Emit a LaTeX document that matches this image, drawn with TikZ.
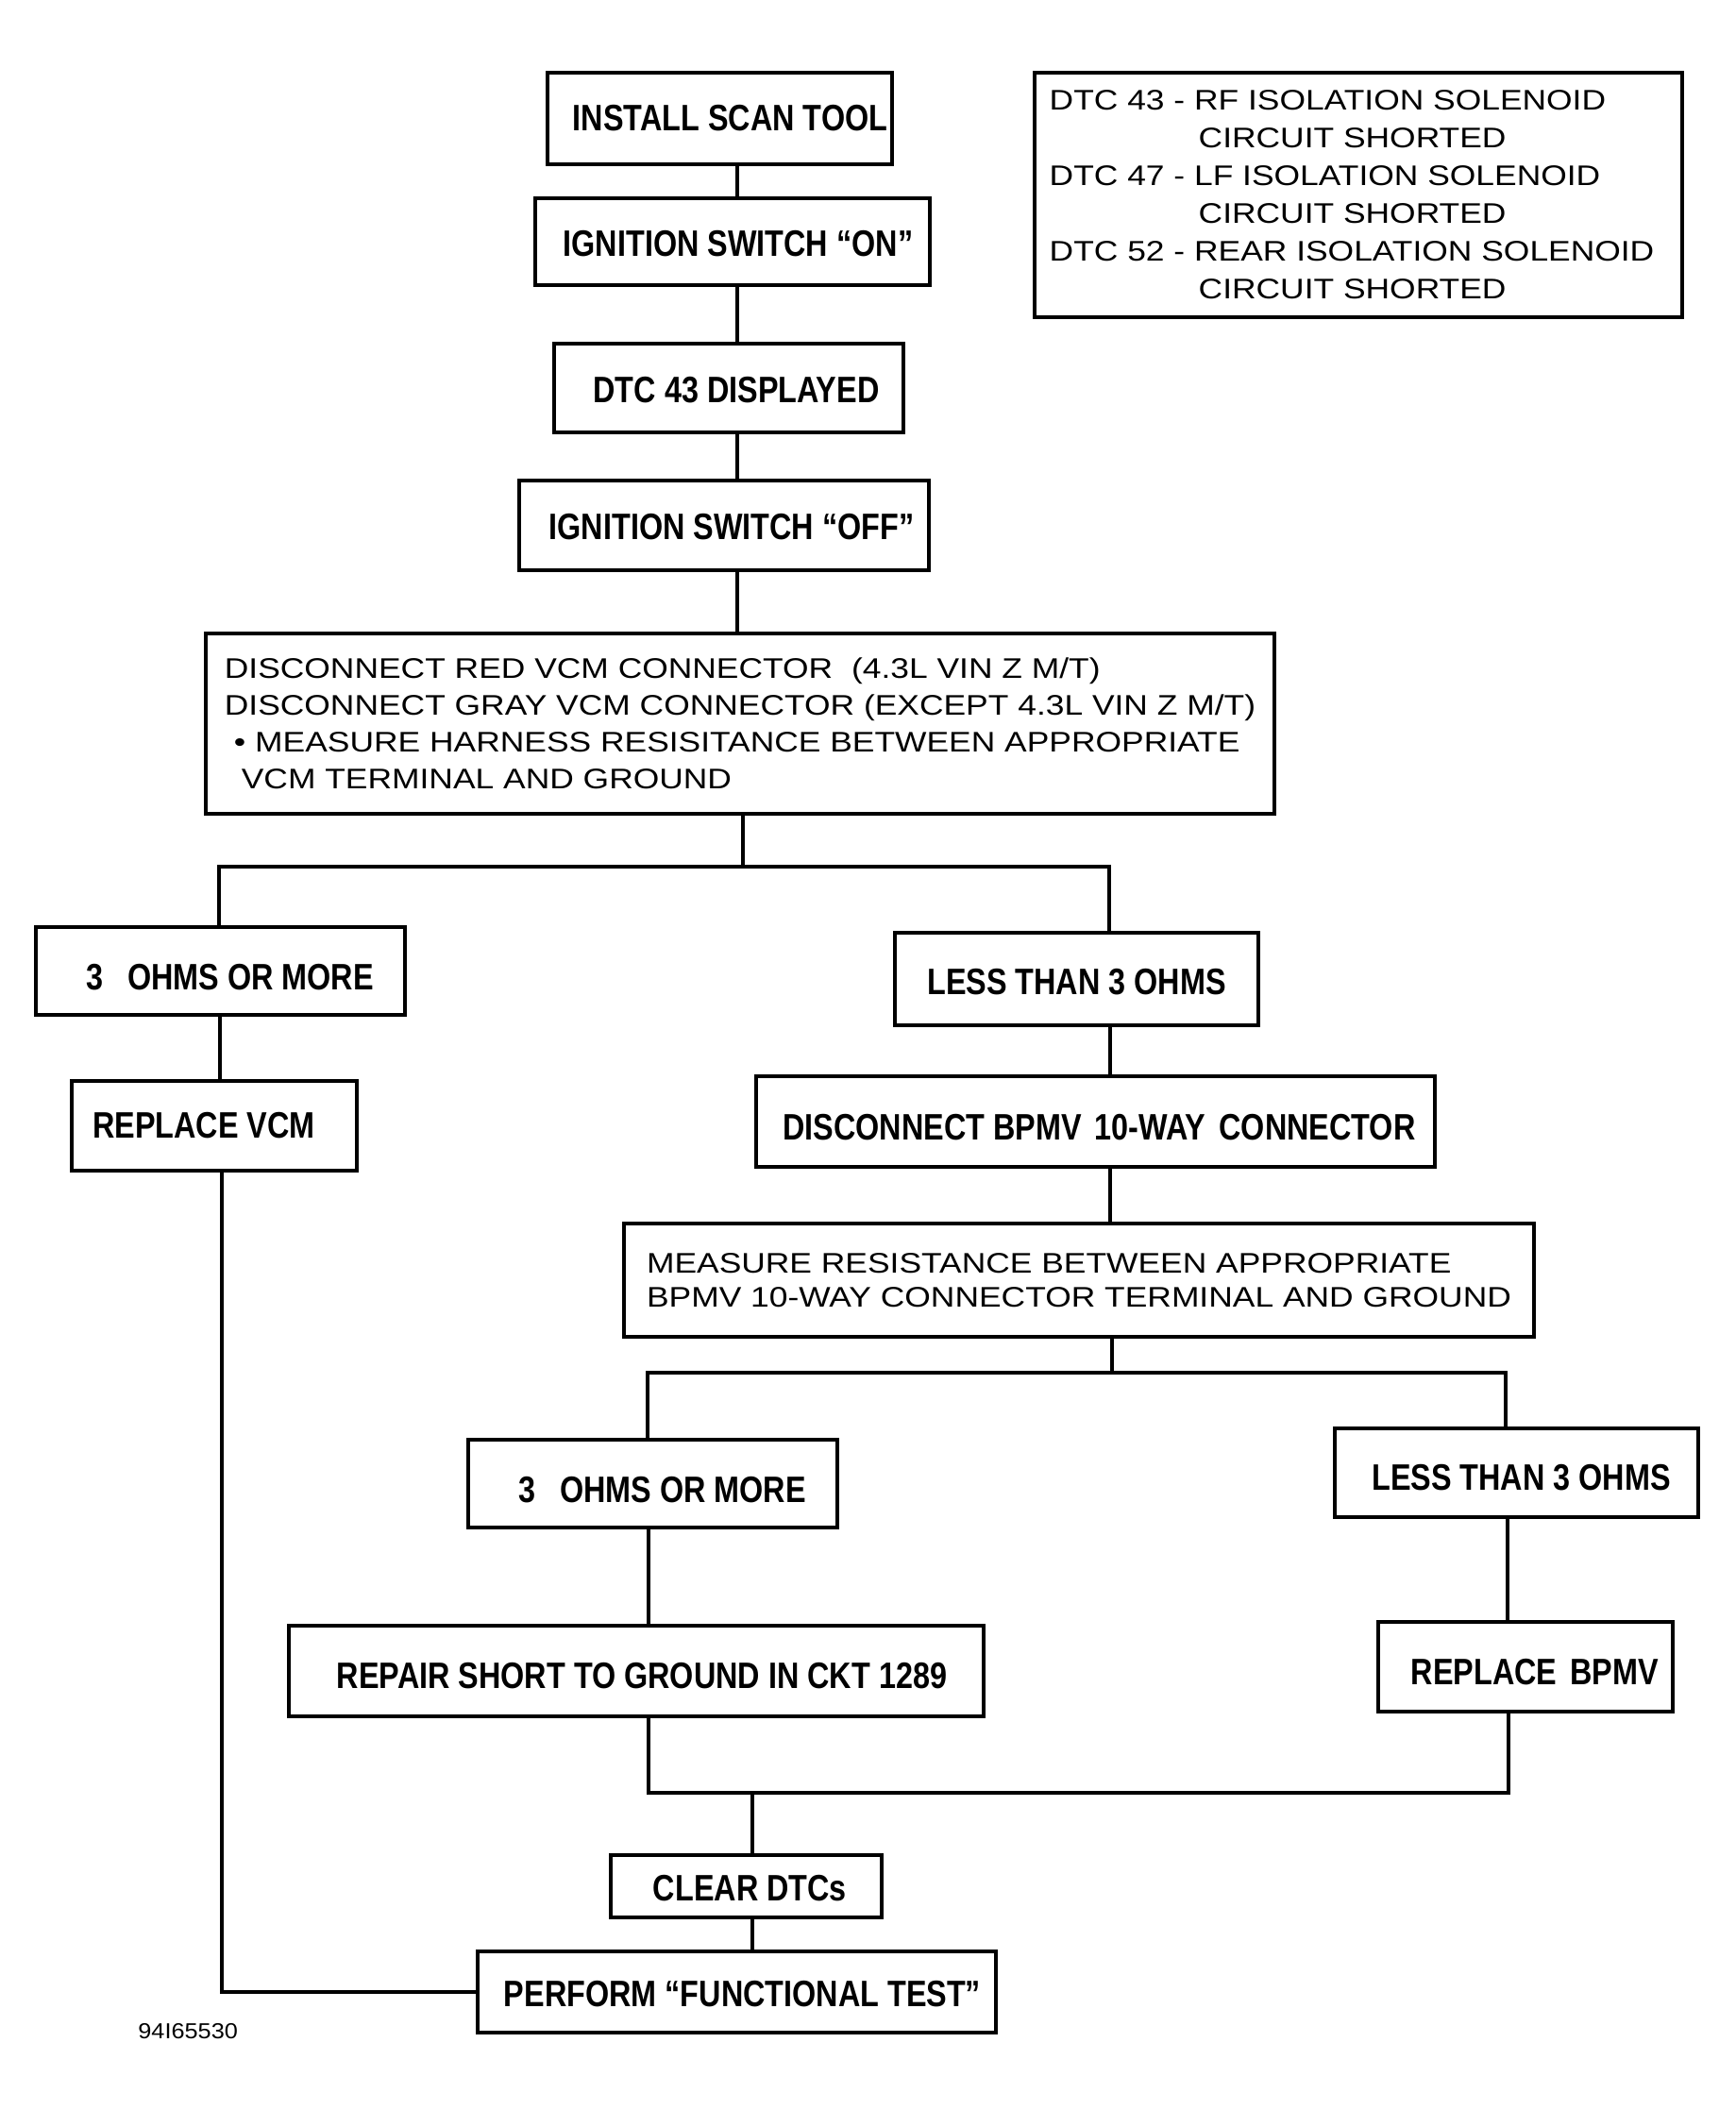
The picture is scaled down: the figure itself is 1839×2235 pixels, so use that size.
\documentclass[tikz,border=0pt]{standalone}
\usepackage{fontspec}
\setmainfont{Liberation Sans}
\newfontfamily\regfont[FakeStretch=1.18]{Liberation Sans}
\newfontfamily\bnarrow[FakeStretch=0.83]{Liberation Sans}
\newfontfamily\smallfont[FakeStretch=1.1]{Liberation Sans}
\newcommand{\dn}[2]{\raisebox{-#1}[\height][\depth]{#2}}
\begin{document}
\begin{tikzpicture}[x=0.5pt,y=-0.5pt,
  bx/.style={draw, line width=2pt, inner sep=0pt, font=\bnarrow\bfseries\fontsize{19.5pt}{23pt}\selectfont},
  tx/.style={draw, line width=2pt, inner sep=0pt, align=left, font=\regfont\fontsize{15pt}{19.5pt}\selectfont},
  ln/.style={line width=2.2pt}]
\fill[white] (0,0) rectangle (1839,2235);
\useasboundingbox (0,0) rectangle (1839,2235);

% top chain
\node[bx, minimum width=182.5pt, minimum height=48.5pt] (install) at (762.5,125.5) {\hspace*{11pt}INSTALL SCAN TOOL};
\node[bx, minimum width=209pt, minimum height=46pt] (ignon) at (776,256) {\dn{1pt}{\hspace*{6pt}IGNITION SWITCH “ON”}};
\node[bx, minimum width=185pt, minimum height=47pt] (dtc) at (772,411) {\dn{1pt}{\hspace*{8pt}DTC 43 DISPLAYED}};
\node[bx, minimum width=217pt, minimum height=47.5pt] (ignoff) at (767,556.5) {\dn{1pt}{\hspace*{8pt}IGNITION SWITCH “OFF”}};

% legend
\node[tx, line width=2.4pt, font=\regfont\fontsize{15pt}{20pt}\selectfont, minimum width=343pt, minimum height=129.5pt] (legend) at (1439,206.5)
  {DTC 43 - RF ISOLATION SOLENOID\\\hspace*{79pt}CIRCUIT SHORTED\\DTC 47 - LF ISOLATION SOLENOID\\\hspace*{79pt}CIRCUIT SHORTED\\DTC 52 - REAR ISOLATION SOLENOID\rule{7pt}{0pt}\\\hspace*{79pt}CIRCUIT SHORTED};

% big box
\node[tx, minimum width=566pt, minimum height=95.5pt] (big) at (784,766.5)
  {DISCONNECT RED VCM CONNECTOR\hspace{5pt} (4.3L VIN Z M/T)\\DISCONNECT GRAY VCM CONNECTOR (EXCEPT 4.3L VIN Z M/T)\\\hspace*{5pt}•\hspace{5pt}MEASURE HARNESS RESISITANCE BETWEEN APPROPRIATE\\\hspace*{9pt}VCM TERMINAL AND GROUND};

% left branch
\node[bx, minimum width=195.5pt, minimum height=46.5pt] (ohms1) at (233.5,1028.5) {\dn{3.5pt}{\hspace*{10pt}3\hspace{13pt}OHMS OR MORE}};
\node[bx, minimum width=151pt, minimum height=47.5pt] (repvcm) at (227,1192.5) {REPLACE VCM\hspace*{11pt}};

% right branch
\node[bx, minimum width=192.5pt, minimum height=49pt] (less1) at (1140.5,1037) {\dn{1.5pt}{LESS THAN 3 OHMS}};
\node[bx, minimum width=359.5pt, minimum height=48pt] (disc) at (1160.5,1188) {\dn{3pt}{\hspace*{4pt}DISCONNECT BPMV\hspace{7pt}10-WAY\hspace{7pt}CONNECTOR}};
\node[tx, font=\regfont\fontsize{15pt}{18pt}\selectfont, minimum width=482pt, minimum height=60pt] (meas) at (1143,1356)
  {MEASURE RESISTANCE BETWEEN APPROPRIATE\\BPMV 10-WAY CONNECTOR TERMINAL AND GROUND};

\node[bx, minimum width=195.5pt, minimum height=46.5pt] (ohms2) at (691.5,1571.5) {\dn{3.5pt}{\hspace*{10pt}3\hspace{13pt}OHMS OR MORE}};
\node[bx, minimum width=192.5pt, minimum height=47pt] (less2) at (1606.5,1560) {\dn{2.5pt}{\hspace*{5pt}LESS THAN 3 OHMS}};
\node[bx, minimum width=368pt, minimum height=48pt] (repair) at (674,1770) {\dn{2.5pt}{\hspace*{6pt}REPAIR SHORT TO GROUND IN CKT 1289}};
\node[bx, minimum width=156pt, minimum height=47.5pt] (repb) at (1616,1765.5) {\dn{3pt}{\hspace*{10pt}REPLACE\hspace{7pt}BPMV}};

% bottom
\node[bx, minimum width=143.5pt, minimum height=33pt] (clear) at (790.5,1998) {\dn{1pt}{\hspace*{4pt}CLEAR DTCs}};
\node[bx, minimum width=274.5pt, minimum height=43pt] (perform) at (780.5,2110) {\dn{1pt}{\hspace*{6pt}PERFORM “FUNCTIONAL TEST”}};

\node[anchor=west, inner sep=0pt, font=\smallfont\fontsize{11.5pt}{13pt}\selectfont] (code) at (146,2152) {94I65530};

% connectors: top trunk
\coordinate (ta) at (781,0);
\draw[ln] (install.south -| ta) -- (ignon.north -| ta);
\draw[ln] (ignon.south -| ta) -- (dtc.north -| ta);
\draw[ln] (dtc.south -| ta) -- (ignoff.north -| ta);
\draw[ln] (ignoff.south -| ta) -- (big.north -| ta);

% first split
\coordinate (s1) at (787,918);
\coordinate (s1l) at (232,918);
\coordinate (s1r) at (1175,918);
\draw[ln] (big.south -| s1) -- (s1);
\draw[ln] (ohms1.north -| s1l) -- (s1l) -- (s1r) -- (less1.north -| s1r);

% left column
\coordinate (la) at (233,0);
\coordinate (lb) at (235,0);
\draw[ln] (ohms1.south -| la) -- (repvcm.north -| la);
\draw[ln] (repvcm.south -| lb) |- (perform.west);

% right column
\coordinate (ra) at (1176,0);
\draw[ln] (less1.south -| ra) -- (disc.north -| ra);
\draw[ln] (disc.south -| ra) -- (meas.north -| ra);

% second split
\coordinate (s2) at (1178,1454);
\coordinate (s2l) at (686,1454);
\coordinate (s2r) at (1595,1454);
\draw[ln] (meas.south -| s2) -- (s2);
\draw[ln] (ohms2.north -| s2l) -- (s2l) -- (s2r) -- (less2.north -| s2r);

\coordinate (ma) at (687,0);
\coordinate (mb) at (1597,0);
\draw[ln] (ohms2.south -| ma) -- (repair.north -| ma);
\draw[ln] (less2.south -| mb) -- (repb.north -| mb);

% merge
\coordinate (m3l) at (687,1899);
\coordinate (m3r) at (1598,1899);
\coordinate (m3) at (797,1899);
\draw[ln] (repair.south -| m3l) -- (m3l) -- (m3r) -- (repb.south -| m3r);
\draw[ln] (m3) -- (clear.north -| m3);
\draw[ln] (clear.south -| m3) -- (perform.north -| m3);
\end{tikzpicture}
\end{document}
